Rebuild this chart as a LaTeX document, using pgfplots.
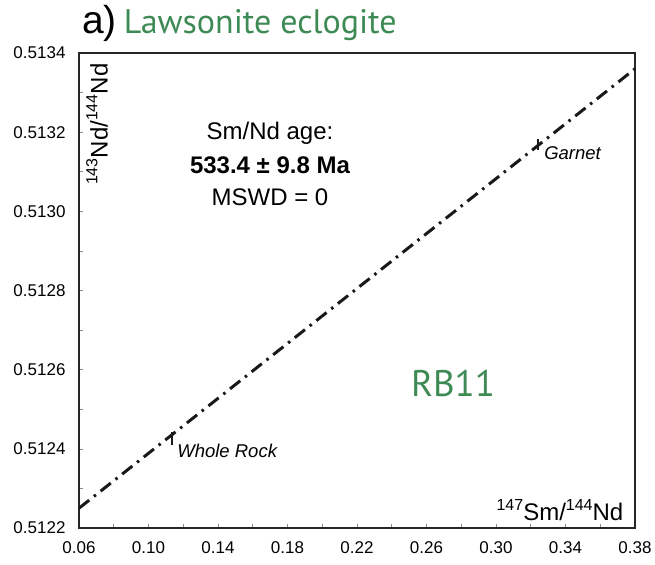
\documentclass[border=0pt]{standalone}
\usepackage{pgfplots}
\pgfplotsset{compat=1.18}
\usepackage{fontspec}
\setmainfont{Liberation Sans}
\newfontfamily\titlefont{PT Sans}
\definecolor{lgreen}{RGB}{62,138,84}
\newcommand{\sps}[1]{\raisebox{0.42em}{\fontsize{16bp}{18bp}\selectfont #1}}
\newcommand{\tickfont}{\fontsize{17bp}{20bp}\selectfont}
\begin{document}
\begin{tikzpicture}
\useasboundingbox (-79bp,-37bp) rectangle (576bp,528bp);
\begin{axis}[
  at={(0,0)}, anchor=south west,
  width=556bp, height=475bp, scale only axis,
  xmin=0.06, xmax=0.38, ymin=0.5122, ymax=0.5134,
  clip=false,
  axis line style={line width=2.4bp, black!85},
  xtick={0.06,0.10,0.14,0.18,0.22,0.26,0.30,0.34,0.38},
  minor xtick={0.08,0.12,0.16,0.20,0.24,0.28,0.32,0.36},
  ytick={0.5122,0.5124,0.5126,0.5128,0.5130,0.5132,0.5134},
  minor ytick={0.5123,0.5125,0.5127,0.5129,0.5131,0.5133},
  tick style={black!45, line width=0.6bp},
  major tick length=4bp, minor tick length=4bp,
  tick align=inside,
  xtick pos=bottom, ytick pos=left,
  scaled x ticks=false, scaled y ticks=false,
  /pgf/number format/assume math mode=true,
  tick label style={font=\tickfont},
  xticklabel style={/pgf/number format/fixed, /pgf/number format/fixed zerofill, /pgf/number format/precision=2, yshift=-10bp},
  yticklabel style={/pgf/number format/fixed, /pgf/number format/fixed zerofill, /pgf/number format/precision=4, xshift=-10bp},
]
\addplot[line width=3bp, black!90, dash pattern=on 13bp off 6bp on 2.5bp off 6bp] coordinates {(0.06,0.51225) (0.38,0.51336)};
\addplot[line width=2.6bp, black!90] coordinates {(0.1135,0.51241) (0.1135,0.512443)};
\addplot[line width=2.6bp, black!90] coordinates {(0.3242,0.513155) (0.3242,0.513182)};
\node[anchor=base west, inner sep=0pt] at (rel axis cs:0.0054,1.042) {{\fontsize{39bp}{40bp}\selectfont a)}\hspace{7bp}{\titlefont\color{lgreen}\fontsize{34bp}{38bp}\selectfont Lawsonite eclogite}};
\node[font=\fontsize{24bp}{27bp}\selectfont] at (rel axis cs:0.3435,0.8316) {Sm/Nd age:};
\node[font=\bfseries\fontsize{24bp}{27bp}\selectfont] at (rel axis cs:0.3435,0.764) {533.4 ± 9.8 Ma};
\node[font=\fontsize{24bp}{27bp}\selectfont] at (rel axis cs:0.3435,0.697) {MSWD = 0};
\node[font=\titlefont\fontsize{37bp}{42bp}\selectfont, text=lgreen] at (rel axis cs:0.6727,0.3053) {RB11};
\node[rotate=90, font=\fontsize{24bp}{27bp}\selectfont] at (rel axis cs:0.0324,0.85) {\sps{143}Nd/\sps{144}Nd};
\node[font=\fontsize{24bp}{27bp}\selectfont] at (rel axis cs:0.865,0.0379) {\sps{147}Sm/\sps{144}Nd};
\node[anchor=west, font=\itshape\fontsize{18.5bp}{21bp}\selectfont] at (rel axis cs:0.1705,0.162) {Whole Rock};
\node[anchor=west, font=\itshape\fontsize{18.5bp}{21bp}\selectfont] at (rel axis cs:0.8305,0.789) {Garnet};
\end{axis}
\end{tikzpicture}
\end{document}
